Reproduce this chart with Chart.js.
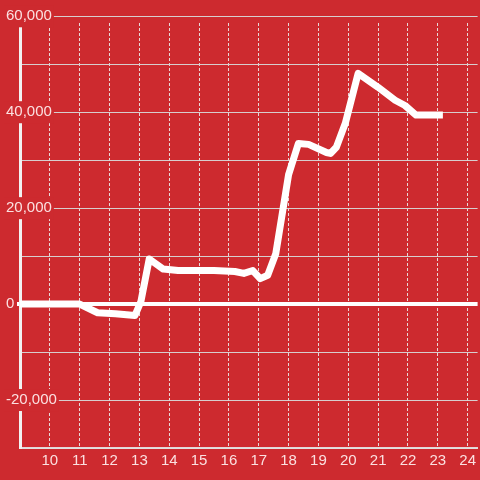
<!DOCTYPE html>
<html>
<head>
<meta charset="utf-8">
<script src="https://cdn.jsdelivr.net/npm/chart.js@4"></script>
<style>
html,body{margin:0;padding:0;background:#cd2a2f;}
#wrap{width:480px;height:480px;}
</style>
</head>
<body>
<div id="wrap"><canvas id="c" width="480" height="480"></canvas></div>
<script>
// Data
const hours = [9, 11, 11.6, 12.2, 12.85, 13.05, 13.33, 13.8, 14.3, 15.5, 16.2, 16.5, 16.8, 17.05, 17.3, 17.57, 18.0, 18.33, 18.67, 19.27, 19.4, 19.6, 19.9, 20.33, 21.0, 21.57, 21.9, 22.27, 23.17];
const values = [0, 0, -1800, -2000, -2400, 500, 9400, 7300, 7000, 7000, 6800, 6400, 7000, 5300, 6000, 10500, 27000, 33500, 33300, 31600, 31400, 32700, 37700, 48100, 45200, 42500, 41400, 39400, 39400];
const xTicks = [9, 10, 11, 12, 13, 14, 15, 16, 17, 18, 19, 20, 21, 22, 23, 24];
const yTicks = [-30000, -20000, -10000, 0, 10000, 20000, 30000, 40000, 50000, 60000];
const yLabelStep = 20000;

const points = hours.map((h, i) => ({x: h, y: values[i]}));
const FONT = {family: 'Liberation Sans', size: 15};
const TXT = 'rgba(255,240,240,0.92)';

new Chart(document.getElementById('c'), {
  type: 'line',
  data: {
    datasets: [{
      data: points,
      borderColor: '#ffffff',
      borderWidth: 7,
      pointRadius: 0,
      tension: 0,
      borderJoinStyle: 'round',
      borderCapStyle: 'butt',
      fill: false
    }]
  },
  options: {
    responsive: false,
    animation: false,
    layout: {padding: {top: 23, left: 6, right: 0, bottom: 0}},
    plugins: {legend: {display: false}, tooltip: {enabled: false}},
    scales: {
      x: {
        type: 'linear',
        min: 9,
        max: 24.3333,
        afterBuildTicks: s => { s.ticks = xTicks.map(v => ({value: v})); },
        afterFit: s => { s.height = 32; },
        ticks: {
          autoSkip: false,
          maxRotation: 0,
          color: TXT,
          font: FONT,
          padding: 4,
          callback: v => v === 9 ? '' : String(v)
        },
        grid: {color: 'rgba(235,235,235,0.9)', lineWidth: 1, drawTicks: false},
        border: {display: true, color: 'rgba(225,225,225,0.95)', width: 2, dash: [3, 2]}
      },
      y: {
        type: 'linear',
        min: -30000,
        max: 58600,
        afterBuildTicks: s => { s.ticks = yTicks.map(v => ({value: v})); },
        afterFit: s => { s.width = 14; },
        ticks: {
          autoSkip: false,
          mirror: true,
          crossAlign: 'near',
          color: TXT,
          font: FONT,
          padding: -14,
          showLabelBackdrop: c => c.tick && c.tick.value % yLabelStep === 0,
          backdropColor: '#cd2a2f',
          backdropPadding: 2,
          callback: v => v % yLabelStep === 0 ? v.toLocaleString('en-US') : ''
        },
        grid: {
          color: c => c.tick && c.tick.value === 0 ? '#ffffff' : 'rgba(215,215,215,0.95)',
          lineWidth: c => c.tick && c.tick.value === 0 ? 4 : 1,
          tickColor: c => c.tick && c.tick.value === 0 ? '#ffffff' : 'rgba(0,0,0,0)',
          tickWidth: 4,
          tickLength: 3
        },
        border: {display: true, color: '#f2f2f2', width: 3}
      }
    }
  }
});
</script>
</body>
</html>
